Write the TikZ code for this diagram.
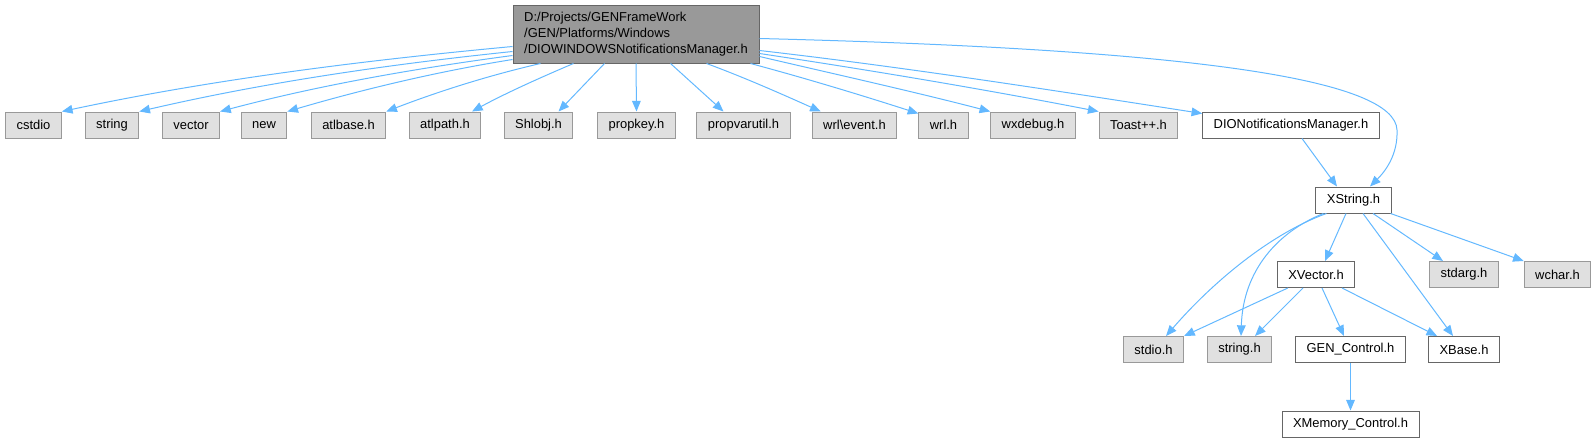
\documentclass[tikz,border=0pt]{standalone}
\usepackage{fontspec}
\setmainfont{Liberation Sans}
\usetikzlibrary{arrows.meta,calc}
\definecolor{edgec}{HTML}{63B8FF}
\definecolor{gfill}{HTML}{E0E0E0}
\definecolor{gdraw}{HTML}{999999}
\definecolor{ddraw}{HTML}{666666}
\definecolor{tfill}{HTML}{999999}
\begin{document}
\begin{tikzpicture}[x=0.75pt,y=-0.75pt,
 base/.style={font=\fontsize{9.7pt}{12pt}\selectfont, inner xsep=8.25pt, inner ysep=0pt, minimum height=19.5pt, line width=0.75pt, anchor=center},
 gbox/.style={base, draw=gdraw, fill=gfill},
 wbox/.style={base, draw=ddraw, fill=white},
 tbox/.style={base, draw=ddraw, fill=tfill, align=left, minimum height=43.5pt, minimum width=184.5pt},
 edge/.style={draw=edgec, line width=0.75pt, -{Triangle[length=8pt,width=6.5pt]}}
]
\useasboundingbox (0,0) rectangle (1595,443);

% nodes
\node[tbox] (top) at (636,34) {D:/Projects/GENFrameWork\\/GEN/Platforms/Windows\\/DIOWINDOWSNotificationsManager.h};

\node[gbox] (cstdio) at (33.5,125) {cstdio};
\node[gbox] (string) at (112,125) {string};
\node[gbox] (vector) at (191,125) {vector};
\node[gbox] (new) at (264,125) {new};
\node[gbox] (atlbase) at (348.5,125) {atlbase.h};
\node[gbox] (atlpath) at (445,125) {atlpath.h};
\node[gbox] (shlobj) at (538.5,125) {Shlobj.h};
\node[gbox] (propkey) at (636.5,125) {propkey.h};
\node[gbox] (propvar) at (743.5,125) {propvarutil.h};
\node[gbox] (wrlev) at (854.5,125) {wrl\textbackslash event.h};
\node[gbox] (wrl) at (943.5,125) {wrl.h};
\node[gbox] (wxdebug) at (1033,125) {wxdebug.h};
\node[gbox] (toast) at (1138.5,125) {Toast++.h};
\node[wbox] (dio) at (1291,125) {DIONotificationsManager.h};

\node[wbox] (xs) at (1353.5,200) {XString.h};
\node[wbox] (xv) at (1316,274.5) {XVector.h};
\node[gbox] (stdarg) at (1464,274.5) {stdarg.h};
\node[gbox] (wchar) at (1557.5,274.5) {wchar.h};
\node[gbox] (stdio) at (1153.5,349.5) {stdio.h};
\node[gbox] (stringh) at (1239.5,349.5) {string.h};
\node[wbox] (gen) at (1350.5,349.5) {GEN\_Control.h};
\node[wbox] (xbase) at (1464,349.5) {XBase.h};
\node[wbox] (xmem) at (1350.5,424) {XMemory\_Control.h};

% edges from top node
\draw[edge] ($(top.north west)+(0,42)$) .. controls +(-150,14) and +(150,-32) .. (cstdio.north east);
\draw[edge] ($(top.north west)+(0,47)$) .. controls +(-125,13) and +(125,-29) .. (string.north east);
\draw[edge] ($(top.north west)+(0,51)$) .. controls +(-98,13) and +(98,-26) .. (vector.north east);
\draw[edge] ($(top.north west)+(0,55)$) .. controls +(-75,12) and +(75,-22) .. (new.north east);
\draw[edge] ($(top.south west)+(28,0)$) .. controls +(-52,12) and +(52,-20) .. (atlbase.north east);
\draw[edge] ($(top.south west)+(61,0)$) .. controls +(-33,14) and +(33,-18) .. ($(atlpath.north)+(27,0)$);
\draw[edge] ($(top.south west)+(92,0)$) -- ($(shlobj.north)+(20,0)$);
\draw[edge] (top.south) -- (propkey.north);
\draw[edge] ($(top.south west)+(158,0)$) -- ($(propvar.north)+(-20,0)$);
\draw[edge] ($(top.south west)+(194,0)$) .. controls +(38,14) and +(-38,-17) .. ($(wrlev.north west)+(9,0)$);
\draw[edge] ($(top.south east)+(-9,0)$) .. controls +(56,15) and +(-56,-18) .. ($(wrl.north west)+(0,2)$);
\draw[edge] ($(top.north east)+(0,52)$) .. controls +(77,18) and +(-77,-20) .. (wxdebug.north west);
\draw[edge] ($(top.north east)+(0,49)$) .. controls +(113,17) and +(-113,-22) .. (toast.north west);
\draw[edge] ($(top.north east)+(0,46)$) .. controls +(148,17) and +(-148,-23) .. ($(dio.north west)+(0,2)$);
\coordinate (bend) at (1397,130);
\draw[edge] ($(top.north east)+(0,34)$) .. controls +(441,11) and +(-2,-50) .. (bend)
  .. controls +(1,25) and +(15,-15) .. ($(xs.north)+(16.5,0)$);

% lower edges
\draw[edge] ($(dio.south)+(11,0)$) -- ($(xs.north)+(-16.5,0)$);
\draw[edge] ($(xs.south)+(-7.5,0)$) -- ($(xv.north)+(9,0)$);
\draw[edge] ($(xs.south west)+(11,0)$) .. controls +(-58,21) and +(44,-51) .. ($(stdio.north east)+(-18,0)$);
\draw[edge] ($(xs.south west)+(8,0)$) .. controls +(-45,18) and +(2,-66) .. ($(stringh.north)+(1.5,0)$);
\draw[edge] ($(xs.south)+(9.5,0)$) -- ($(xbase.north)+(-11,0)$);
\draw[edge] ($(xs.south)+(19.5,0)$) -- ($(stdarg.north)+(-21,0)$);
\draw[edge] ($(xs.south east)+(-1,0)$) -- (wchar.north west);
\draw[edge] ($(xv.south west)+(11,0)$) -- (stdio.north east);
\draw[edge] ($(xv.south)+(-13,0)$) -- ($(stringh.north)+(15.5,0)$);
\draw[edge] ($(xv.south)+(6,0)$) -- ($(gen.north)+(-6.5,0)$);
\draw[edge] ($(xv.south)+(26,0)$) -- ($(xbase.north west)+(9,0)$);
\draw[edge] (gen.south) -- (xmem.north);
\end{tikzpicture}
\end{document}
